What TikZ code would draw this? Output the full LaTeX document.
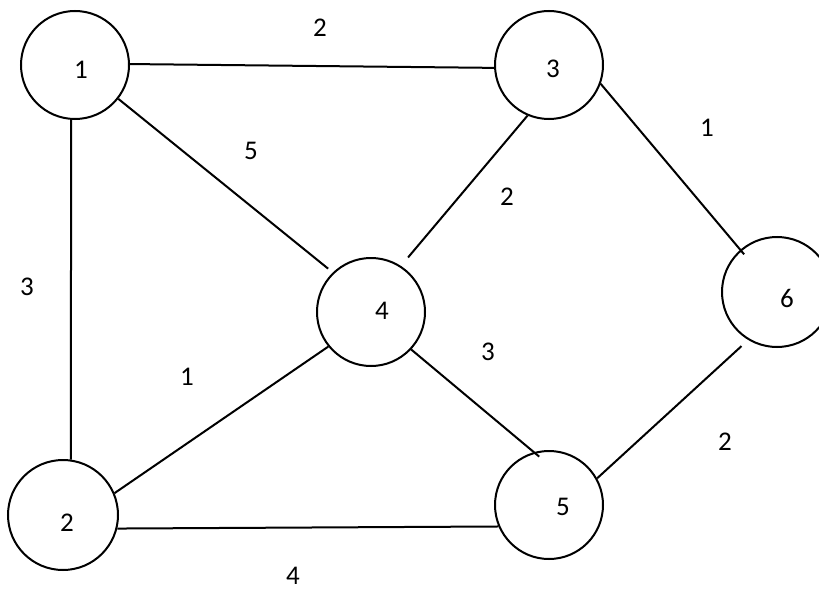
\documentclass[tikz,border=0pt]{standalone}
\usepackage{fontspec}
\setmainfont{Carlito}
\begin{document}
\begin{tikzpicture}[x=1pt,y=-1pt,
  vertex/.style={draw=black,line width=2pt,circle,minimum size=108pt,inner sep=0pt,fill=white},
  edge/.style={draw=black,line width=2pt},
  wt/.style={font=\fontsize{27}{31}\selectfont,inner sep=0pt},
  vlab/.style={font=\fontsize{27}{31}\selectfont,inner sep=0pt}]
\useasboundingbox[fill=white] (0,0) rectangle (819,591);
% vertices
\node[vertex] (n1) at (75,65) {};
\node[vertex] (n3) at (549,65) {};
\node[vertex] (n4) at (371,312) {};
\node[vertex,minimum size=110pt] (n6) at (777,292) {};
\node[vertex,minimum size=110pt] (n2) at (63,515) {};
\node[vertex] (n5) at (549,505) {};
\node[vlab] (l1) at (81,70) {1};
\node[vlab] (l3) at (553,69) {3};
\node[vlab] (l4) at (382,311) {4};
\node[vlab] (l6) at (787,298) {6};
\node[vlab] (l2) at (67,523) {2};
\node[vlab] (l5) at (563,507) {5};
% edges
\draw[edge] (n1.1) -- (n3.183);
\draw[edge,shorten >=6pt] (n1.-38) -- (n4.134);
\draw[edge] (n1.-94) -- (n2.82);
\draw[edge,shorten >=11pt] (n3.-113) -- (n4.57);
\draw[edge,shorten >=-6pt] (n3.-20) -- (n6.131);
\draw[edge] (n4.-141) -- (n2.23);
\draw[edge,shorten >=-7pt] (n4.-43) -- (n5.106);
\draw[edge] (n2.-14) -- (n5.-157);
\draw[edge,shorten <=9pt] (n6.-121) -- (n5.29);
% weights
\node[wt] (w13) at (320,28) {2};
\node[wt] (w14) at (251,151) {5};
\node[wt] (w12) at (27,287) {3};
\node[wt] (w36) at (707,128) {1};
\node[wt] (w34) at (507,197) {2};
\node[wt] (w24) at (187,377) {1};
\node[wt] (w25) at (293,576) {4};
\node[wt] (w45) at (488,352) {3};
\node[wt] (w65) at (725,442) {2};
\end{tikzpicture}
\end{document}
